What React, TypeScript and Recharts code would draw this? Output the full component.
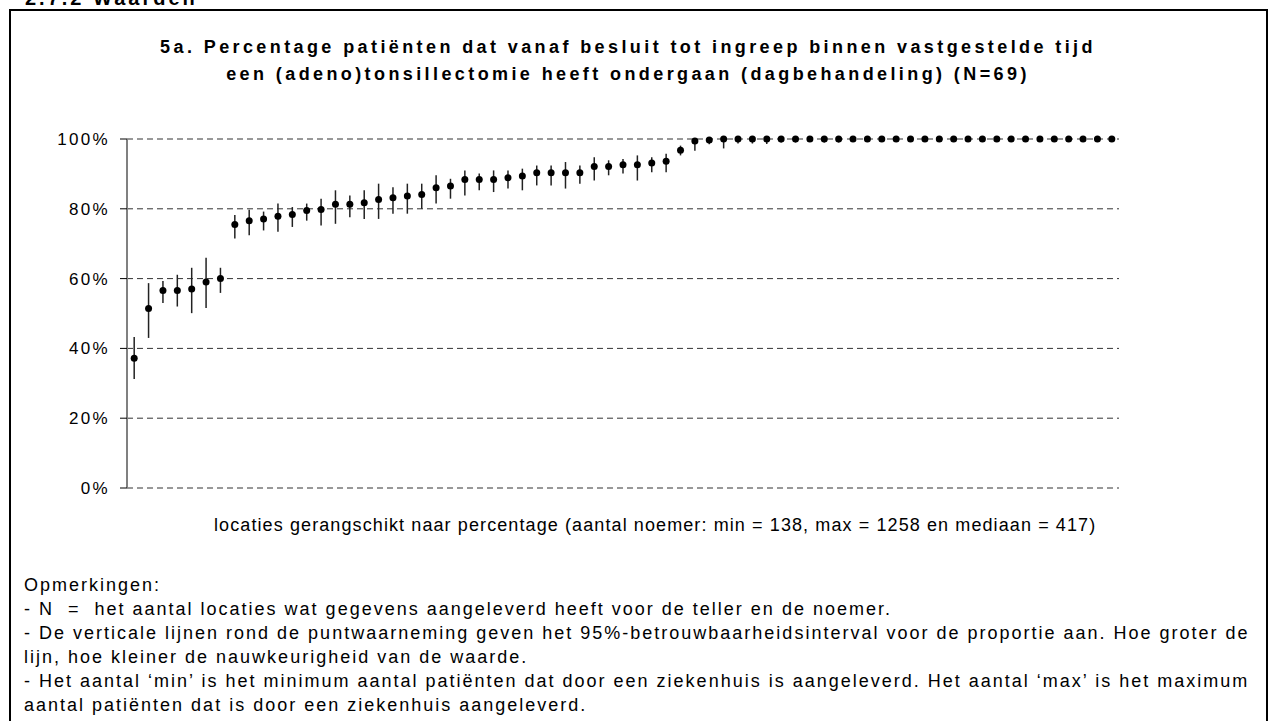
import React from 'react';
import { ComposedChart, Line, ErrorBar, XAxis, YAxis, CartesianGrid } from 'recharts';

// percentages per location, ranked
const percentages = [
	37.2, 51.4, 56.6, 56.6, 57.0, 59.0, 60.0, 75.5, 76.6, 77.1, 77.9, 78.4, 79.5, 79.8, 81.3, 81.3, 81.7, 82.7, 83.2,
	83.7, 84.1, 86.0, 86.5, 88.4, 88.4, 88.4, 88.9, 89.4, 90.3, 90.3, 90.3, 90.3, 92.1, 92.1, 92.6, 92.6, 93.1, 93.6,
	96.8, 99.4, 99.7, 100, 100, 100, 100, 100, 100, 100, 100, 100, 100, 100, 100, 100, 100, 100, 100, 100, 100, 100,
	100, 100, 100, 100, 100, 100, 100, 100, 100,
];
// 95% interval, lower bound
const ciLow = [
	31.2, 43.0, 53.0, 52.0, 50.1, 51.6, 55.9, 71.5, 72.4, 73.8, 73.4, 74.8, 76.6, 75.2, 75.7, 77.6, 77.1, 77.1, 78.6,
	78.6, 80.0, 81.5, 82.9, 83.8, 85.3, 84.8, 85.8, 85.3, 86.7, 86.7, 85.8, 87.2, 88.1, 89.6, 90.1, 88.1, 90.5, 90.5,
	95.3, 96.6, 98.5, 97.3, 98.7, 98.7, 98.6, 99.0, 99.0, 99.3, 99.0, 99.0, 99.5, 99.5, 100, 100, 100, 100, 100, 100,
	100, 100, 100, 100, 100, 100, 100, 100, 100, 100, 100,
];
// 95% interval, upper bound
const ciHigh = [
	43.3, 58.7, 59.3, 61.1, 63.1, 66.0, 63.1, 78.2, 79.7, 79.2, 81.5, 80.5, 81.5, 82.9, 85.3, 83.8, 85.3, 87.2, 86.2,
	87.2, 87.2, 89.6, 88.6, 91.0, 90.1, 91.0, 91.0, 91.5, 92.4, 92.4, 93.4, 92.4, 94.8, 93.9, 94.3, 95.3, 94.8, 95.8,
	98.1, 100, 100, 100, 100, 100, 100, 100, 100, 100, 100, 100, 100, 100, 100, 100, 100, 100, 100, 100, 100, 100, 100,
	100, 100, 100, 100, 100, 100, 100, 100,
];
const yTicks = [0, 20, 40, 60, 80, 100];

const chartData = percentages.map((v, i) => ({
	loc: i + 1,
	value: v,
	ci: [v - ciLow[i], ciHigh[i] - v],
}));

const font = 'Arial, "Liberation Sans", sans-serif';

export default function App() {
	return (
		<div
			style={{
				position: 'absolute',
				left: 0,
				top: 0,
				width: 1278,
				height: 721,
				overflow: 'hidden',
				background: '#fff',
				fontFamily: font,
				color: '#000',
			}}
		>
			<div
				style={{
					position: 'absolute',
					left: 25,
					top: -13,
					fontSize: 20,
					fontWeight: 'bold',
					letterSpacing: 3,
					whiteSpace: 'nowrap',
				}}
			>
				2.7.2 Waarden
			</div>
			<div
				style={{
					position: 'absolute',
					left: 9,
					top: 9,
					width: 1259,
					height: 760,
					border: '2px solid #000',
					boxSizing: 'border-box',
				}}
			/>

			{/* title */}
			<div
				style={{
					position: 'absolute',
					left: 0,
					width: 1256,
					top: 34,
					textAlign: 'center',
					fontSize: 18,
					fontWeight: 'bold',
					letterSpacing: 3.4,
					lineHeight: '27px',
					whiteSpace: 'nowrap',
				}}
			>
				<div>5a. Percentage patiënten dat vanaf besluit tot ingreep binnen vastgestelde tijd</div>
				<div>een (adeno)tonsillectomie heeft ondergaan (dagbehandeling) (N=69)</div>
			</div>

			<div style={{ position: 'absolute', left: 0, top: 0 }}>
				<ComposedChart
					width={1278}
					height={560}
					data={chartData}
					margin={{ top: 139, right: 159, bottom: 72, left: 67 }}
				>
					<CartesianGrid vertical={false} stroke='#333' strokeDasharray='6 4' />
					<XAxis
						dataKey='loc'
						type='number'
						domain={[0.5, 69.5]}
						tick={false}
						tickLine={false}
						axisLine={{ stroke: '#000', strokeWidth: 1.5 }}
						height={0}
					/>
					<YAxis
						domain={[0, 100]}
						ticks={yTicks}
						width={60}
						tickSize={7}
						tickMargin={10}
						tickFormatter={(v: number) => `${v}%`}
						tick={{ fill: '#000', fontSize: 17, fontFamily: font, letterSpacing: 2.3 }}
						tickLine={{ stroke: '#000' }}
						axisLine={{ stroke: '#808080', strokeWidth: 2 }}
					/>
					<Line
						dataKey='value'
						stroke='none'
						isAnimationActive={false}
						dot={{ r: 3.5, fill: '#000', stroke: 'none' }}
						activeDot={false}
					>
						<ErrorBar dataKey='ci' width={0} stroke='#222' strokeWidth={1.5} direction='y' />
					</Line>
				</ComposedChart>
			</div>

			<div
				style={{
					position: 'absolute',
					left: 214,
					top: 515,
					fontSize: 18,
					letterSpacing: 1.1,
					whiteSpace: 'nowrap',
				}}
			>
				locaties gerangschikt naar percentage (aantal noemer: min = 138, max = 1258 en mediaan = 417)
			</div>

			{/* remarks */}
			<div
				style={{
					position: 'absolute',
					left: 24,
					top: 573,
					fontSize: 18,
					letterSpacing: 2,
					lineHeight: '24px',
					whiteSpace: 'nowrap',
				}}
			>
				<div>Opmerkingen:</div>
				<div>- N&nbsp; = &nbsp;het aantal locaties wat gegevens aangeleverd heeft voor de teller en de noemer.</div>
				<div>
					- De verticale lijnen rond de puntwaarneming geven het 95%-betrouwbaarheidsinterval voor de proportie aan. Hoe
					groter de
				</div>
				<div>lijn, hoe kleiner de nauwkeurigheid van de waarde.</div>
				<div>
					- Het aantal ‘min’ is het minimum aantal patiënten dat door een ziekenhuis is aangeleverd. Het aantal ‘max’ is
					het maximum
				</div>
				<div>aantal patiënten dat is door een ziekenhuis aangeleverd.</div>
			</div>
		</div>
	);
}
